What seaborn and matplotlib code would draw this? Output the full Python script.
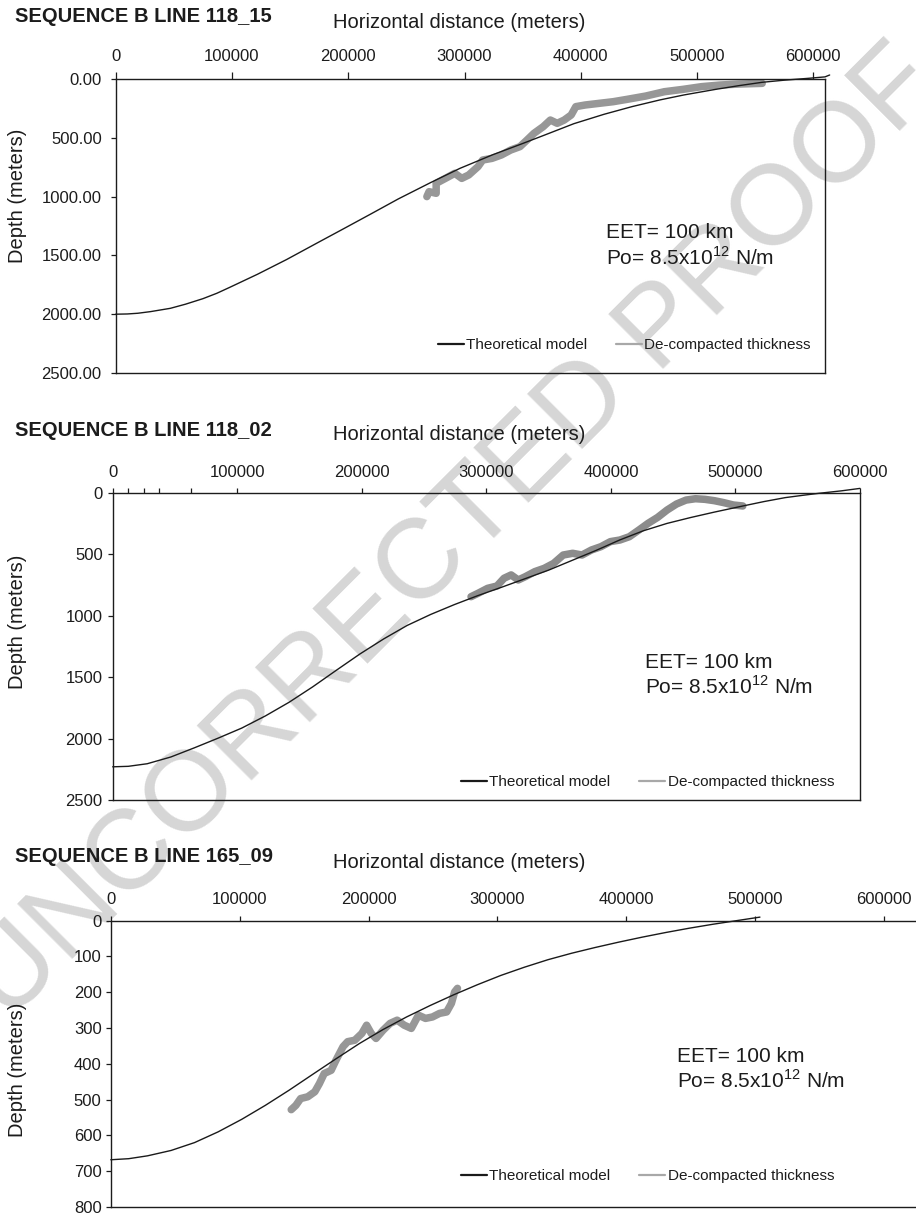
import matplotlib
matplotlib.use("Agg")
import matplotlib.pyplot as plt
import seaborn as sns
from matplotlib.lines import Line2D
from matplotlib import font_manager
from matplotlib.ticker import FixedLocator

# ---------------- data ----------------
# SEQUENCE B LINE 118_15
x1_model = [0, 10000, 19000, 30000, 47000, 60000, 75000, 87000, 98000, 122000, 147000,
            175000, 194000, 219000, 243000, 271000, 296000, 324000, 348000, 368000,
            394000, 420000, 444000, 468000, 489000, 516000, 537000, 556000, 575000,
            596000, 610000, 614000]
d1_model = [2000, 1998, 1992, 1978, 1950, 1915, 1868, 1822, 1772, 1660, 1535,
            1385, 1284, 1150, 1020, 880, 760, 645, 556, 480,
            380, 300, 235, 178, 135, 88, 55, 28, 10,
            -6, -18, -34]
x1_sed = [267600, 269500, 275600, 275600, 283600, 291600, 297600, 303600, 311600,
          315600, 323600, 331700, 339700, 347700, 353700, 359700, 367700, 373800,
          379700, 385700, 391700, 395700, 403800, 415800, 427800, 439800, 455800,
          471900, 487900, 503900, 520000, 536000, 556000]
d1_sed = [1000, 958, 972, 887, 845, 802, 845, 816, 745,
          689, 675, 646, 604, 575, 519, 462, 405, 349,
          377, 349, 306, 235, 221, 207, 193, 173, 145,
          108, 88, 65, 51, 43, 37]

# SEQUENCE B LINE 118_02
x2_model = [0, 12500, 27700, 46700, 65700, 84600, 103600, 122600, 141600, 160500,
            179500, 198500, 217500, 236400, 255400, 274400, 293000, 312000, 331000,
            350000, 369000, 388000, 407000, 426000, 445000, 464000, 483000, 506000,
            523000, 540000, 555000, 567000, 585000, 600000]
d2_model = [2230, 2226, 2205, 2150, 2075, 1997, 1915, 1816, 1705, 1580,
            1445, 1312, 1190, 1080, 990, 910, 838, 770, 700,
            630, 550, 470, 385, 310, 250, 202, 158, 108,
            72, 40, 20, 5, -15, -35]
x2_sed = [287700, 293400, 301000, 308500, 314200, 319900, 325600, 331300, 338900,
          346500, 354000, 361700, 369300, 376800, 384400, 392000, 399600, 407200,
          414800, 422400, 429900, 437500, 445100, 452700, 460300, 467900, 475500,
          483100, 490700, 498300, 505900]
d2_sed = [846, 818, 778, 759, 696, 669, 710, 683, 642,
          615, 575, 507, 493, 507, 466, 439, 398, 385,
          358, 304, 249, 201, 141, 92, 60, 49, 54,
          65, 81, 100, 108]

# SEQUENCE B LINE 165_09
x3_model = [0, 13900, 28500, 46800, 65000, 83300, 101600, 119900, 138200, 156400,
            174700, 193000, 211300, 229500, 247800, 266100, 284400, 302600, 320900,
            339200, 357500, 375700, 394000, 412300, 430600, 448800, 467100, 481700,
            500000, 503700]
d3_model = [668, 665, 657, 642, 620, 590, 555, 516, 474, 430,
            386, 343, 304, 269, 237, 207, 179, 153, 130,
            109, 91, 75, 60, 46, 33, 21, 10, 2,
            -8, -10]
x3_sed = [140000, 143600, 147300, 152800, 158300, 161900, 165600, 171000, 174700,
          180200, 183800, 189300, 194800, 198500, 202100, 205800, 211300, 216700,
          222200, 227700, 233200, 238700, 244200, 249600, 255100, 260600, 264300,
          266800, 269000]
d3_sed = [528, 516, 497, 492, 478, 455, 427, 418, 390,
          352, 338, 334, 315, 292, 315, 329, 306, 287,
          278, 292, 301, 264, 273, 269, 259, 255, 231,
          199, 189]

titles = ["SEQUENCE B LINE 118_15", "SEQUENCE B LINE 118_02", "SEQUENCE B LINE 165_09"]
x_ticks = [0, 100000, 200000, 300000, 400000, 500000, 600000]
y_ticks_deep = [0, 500, 1000, 1500, 2000, 2500]
y_ticks_shallow = [0, 100, 200, 300, 400, 500, 600, 700, 800]
series_names = ["Theoretical model", "De-compacted thickness"]
eet_text = "EET= 100 km"
po_text = r"Po= 8.5x10$^{\mathregular{12}}$ N/m"
x_label = "Horizontal distance (meters)"
y_label = "Depth (meters)"

# ---------------- style ----------------
sns.set_theme(style="white")
ink = "#1c1c1c"
plt.rcParams["font.family"] = ["Liberation Sans", "DejaVu Sans"]
plt.rcParams["text.color"] = ink
plt.rcParams["axes.labelcolor"] = ink
plt.rcParams["xtick.color"] = ink
plt.rcParams["ytick.color"] = ink

installed = {f.name for f in font_manager.fontManager.ttflist}
if "Liberation Sans Narrow" in installed:
    legend_font = {"family": "Liberation Sans Narrow", "size": 13}
else:
    legend_font = {"family": "Liberation Sans", "size": 11}

model_color = "#1a1a1a"
legend_sed_color = "#a8a8a8"

W, H = 916, 1217
fig = plt.figure(figsize=(W / 100, H / 100), dpi=100)


def fx(px):
    return px / W


def fy(py):
    return 1 - py / H


def rect(l, t, r, b):
    return [l / W, 1 - b / H, (r - l) / W, (b - t) / H]


# watermark behind the panels
fig.text(fx(455), fy(535), "UNCORRECTED PROOF", rotation=45, rotation_mode="anchor",
         ha="center", va="center", fontsize=82, color="#d6d6d6", zorder=-5)

panels = [
    dict(rect=rect(115.7, 79, 825, 373), xmax=610000, ymax=2500, yt=y_ticks_deep,
         fmt="{:.2f}", xm=x1_model, dm=d1_model, xs=x1_sed, ds=d1_sed, sed="#979797",
         title_y=17, xlabel_y=23, ylabel_y=196, eet=(606, 233, 258),
         legend=(811, 345), right_spine=True, xlen=5, xpad=6, ypad=6.5, minor=None),
    dict(rect=rect(112.7, 492.7, 860, 800), xmax=600000, ymax=2500, yt=y_ticks_deep,
         fmt="{:.0f}", xm=x2_model, dm=d2_model, xs=x2_sed, ds=d2_sed, sed="#8c8c8c",
         title_y=430, xlabel_y=435, ylabel_y=622, eet=(645, 662, 687),
         legend=(834, 782), right_spine=True, xlen=3.8, xpad=5.5, ypad=3.6,
         minor=[12500, 25000, 37500, 62500]),
    dict(rect=rect(110.8, 920.7, 916, 1207), xmax=624800, ymax=800, yt=y_ticks_shallow,
         fmt="{:.0f}", xm=x3_model, dm=d3_model, xs=x3_sed, ds=d3_sed, sed="#979797",
         title_y=857, xlabel_y=862, ylabel_y=1070, eet=(677, 1056, 1080),
         legend=(834, 1176), right_spine=False, xlen=3.8, xpad=6, ypad=3,
         minor=None),
]

for title, p in zip(titles, panels):
    ax = fig.add_axes(p["rect"])
    ax.set_facecolor("none")

    sns.lineplot(x=p["xm"], y=p["dm"], ax=ax, sort=False, estimator=None, legend=False,
                 color=model_color, lw=1.0, clip_on=False, zorder=3)
    sns.lineplot(x=p["xs"], y=p["ds"], ax=ax, sort=False, estimator=None, legend=False,
                 color=p["sed"], lw=5.4, solid_capstyle="round",
                 solid_joinstyle="round", zorder=2)

    ax.set_xlim(0, p["xmax"])
    ax.set_ylim(p["ymax"], 0)
    ax.set_xlabel("")
    ax.set_ylabel("")

    ax.xaxis.tick_top()
    ax.set_xticks(x_ticks)
    ax.set_xticklabels([str(v) for v in x_ticks])
    ax.set_yticks(p["yt"])
    ax.set_yticklabels([p["fmt"].format(v) for v in p["yt"]])
    ax.tick_params(axis="x", which="major", top=True, bottom=False, direction="out",
                   length=p["xlen"], width=0.9, pad=p["xpad"], labelsize=12,
                   labeltop=True, labelbottom=False, colors=ink)
    ax.tick_params(axis="y", which="major", left=True, right=False, direction="out",
                   length=3.6, width=0.9, pad=p["ypad"], labelsize=12, colors=ink)
    if p["minor"]:
        ax.xaxis.set_minor_locator(FixedLocator(p["minor"]))
        ax.tick_params(axis="x", which="minor", top=True, bottom=False,
                       direction="out", length=p["xlen"], width=0.9, colors=ink)

    for name, sp in ax.spines.items():
        sp.set_color(ink)
        sp.set_linewidth(1.0)
    ax.spines["right"].set_visible(p["right_spine"])

    handles = [Line2D([], [], color=model_color, lw=1.6),
               Line2D([], [], color=legend_sed_color, lw=1.6)]
    ax.legend(handles, series_names, loc="center right",
              bbox_to_anchor=(fx(p["legend"][0]), fy(p["legend"][1])),
              bbox_transform=fig.transFigure, ncol=2, frameon=False, prop=legend_font,
              handlelength=1.7, handletextpad=0.15, columnspacing=1.9,
              borderpad=0, borderaxespad=0)

    ex, ey1, ey2 = p["eet"]
    ax.text(fx(ex), fy(ey1), eet_text, transform=fig.transFigure, fontsize=15,
            ha="left", va="center")
    ax.text(fx(ex), fy(ey2), po_text, transform=fig.transFigure, fontsize=15,
            ha="left", va="center")

    fig.text(fx(15), fy(p["title_y"]), title, fontsize=14.5, fontweight="bold",
             ha="left", va="center")
    fig.text(fx(459), fy(p["xlabel_y"]), x_label, fontsize=14.5, ha="center", va="center")
    fig.text(fx(18), fy(p["ylabel_y"]), y_label, fontsize=14.5, rotation=90,
             ha="center", va="center")

fig.savefig("out.png", dpi=100, facecolor="white")
